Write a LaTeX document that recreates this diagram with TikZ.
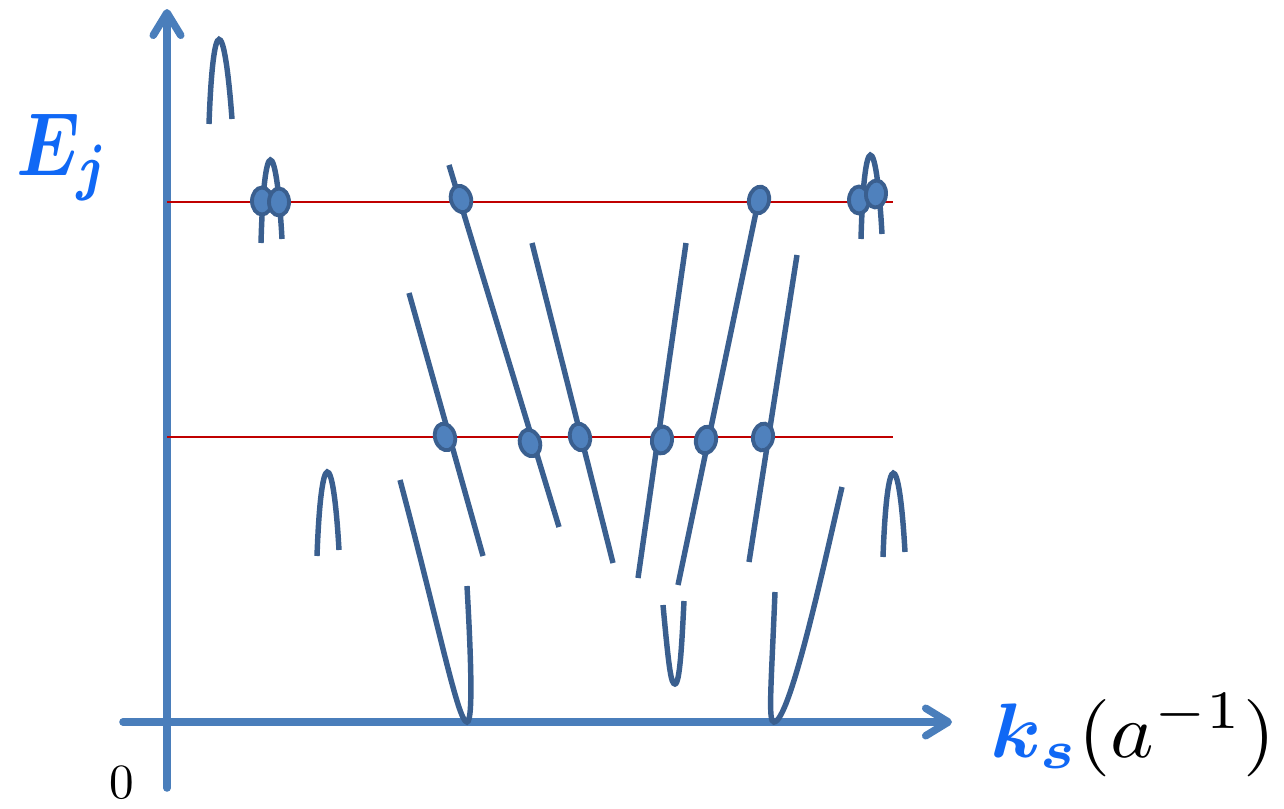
\documentclass[tikz,border=0pt]{standalone}
\usepackage{amsmath,amssymb,bm}
\usetikzlibrary{arrows.meta,shapes.geometric}
\definecolor{axisblue}{HTML}{4A7EBB}
\definecolor{bandblue}{HTML}{3A5F8F}
\definecolor{dotfill}{HTML}{4F81BD}
\definecolor{levelred}{HTML}{C00000}
\definecolor{labelblue}{HTML}{1068F5}

\begin{document}
\begin{tikzpicture}[x=0.02cm, y=-0.02cm,
    axis/.style={line width=4.3pt, axisblue, line cap=round,
      -{Straight Barb[length=0.45cm, width=0.55cm, round]}},
    band/.style={line width=3.1pt, bandblue},
    level/.style={line width=1.1pt, levelred},
    crossing/.style={ellipse, draw=bandblue, fill=dotfill, line width=2.2pt,
      minimum width=0.4cm, minimum height=0.54cm, inner sep=0pt}]
    \useasboundingbox (0,0) rectangle (1284,808);
    % ---- axes
    \coordinate (ybot) at (167,788);
    \coordinate (ytop) at (167,9);
    \coordinate (xleft) at (123,722);
    \coordinate (xright) at (952,722);
    \draw[axis] (ybot) -- (ytop);
    \draw[axis] (xleft) -- (xright);
    \node[labelblue, anchor=base west, inner sep=0pt] (elabel) at (16,175)
      {\scalebox{4.2}[5.1]{$\boldsymbol{E_j}$}};
    \node[anchor=base west, inner sep=0pt] (klabel) at (990,757)
      {\scalebox{4.7}[4.4]{$\color{labelblue}\boldsymbol{k_s}\color{black}(a^{-1})$}};
    \node[anchor=base, inner sep=0pt] (zero) at (122,798) {\scalebox{2.8}{0}};
    % ---- the two energy levels
    \draw[level] (167,202) -- (893,202);
    \draw[level] (167,437) -- (893,437);
    % ---- small caps
    \draw[band] (209,124) .. controls (213,12) and (224,12) .. (232,119);
    \draw[band] (261,243) .. controls (264,133) and (276,133) .. (282,239);
    \draw[band] (861,239) .. controls (864,128) and (876,128) .. (882,234);
    \draw[band] (317,556) .. controls (321,445) and (333,445) .. (339,550);
    \draw[band] (883,557) .. controls (887,446) and (899,446) .. (905,552);
    % ---- straight branches
    \draw[band] (449,165) -- (559,527);
    \draw[band] (409,293) -- (483,556);
    \draw[band] (532,243) -- (613,563);
    \draw[band] (686,243) -- (638,578);
    \draw[band] (760,193) -- (678,585);
    \draw[band] (797,255) -- (749,562);
    % ---- the valleys
    \draw[band] (400,480) .. controls (440,630) and (458,722) .. (467,722)
      .. controls (474,722) and (470,640) .. (467,586);
    \draw[band] (775,592) .. controls (771,690) and (768,722) .. (774,722)
      .. controls (790,722) and (825,560) .. (842,487);
    \draw[band] (663,605) .. controls (669,670) and (671,684) .. (675,684)
      .. controls (680,684) and (682,640) .. (684,601);
    % ---- crossings with the levels
    \node[crossing] (c1) at (262,201) {};
    \node[crossing] (c2) at (279,202) {};
    \node[crossing, rotate=17] (c3) at (461,199) {};
    \node[crossing, rotate=-12] (c4) at (759,200) {};
    \node[crossing] (c5) at (859,200) {};
    \node[crossing, rotate=-5] (c6) at (876,194) {};
    \node[crossing, rotate=16] (d1) at (445,437) {};
    \node[crossing, rotate=17] (d2) at (530,443) {};
    \node[crossing, rotate=14] (d3) at (580,437) {};
    \node[crossing, rotate=-8] (d4) at (662,440) {};
    \node[crossing, rotate=-12] (d5) at (706,440) {};
    \node[crossing, rotate=-9] (d6) at (763,437) {};
\end{tikzpicture}
\end{document}
